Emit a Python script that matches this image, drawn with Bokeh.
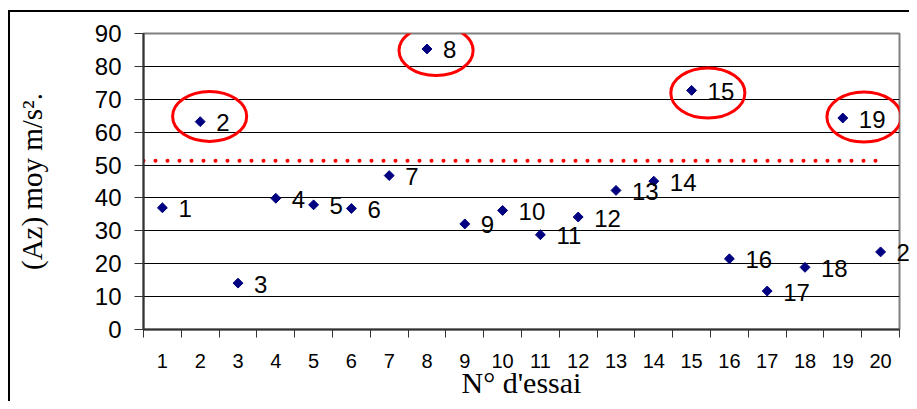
import numpy as np
from bokeh.plotting import figure
from bokeh.models import Range1d, FixedTicker, ColumnDataSource
from bokeh.core.properties import value
from bokeh.embed import file_html
from bokeh.resources import INLINE

# ---- data ----
essais = list(range(1, 21))
az_moy = [37.0, 63.2, 14.1, 39.9, 37.9, 36.8, 46.8, 85.3, 32.1, 36.2,
          28.8, 34.2, 42.3, 45.1, 72.7, 21.5, 11.7, 18.9, 64.3, 23.6]
point_labels = [str(e) for e in essais]
threshold = 51.3
threshold_x = [0.5, 19.9]
highlighted = [2, 8, 15, 19]
highlight_dx = [0.25, 0.24, 0.43, 0.56]
highlight_dy = [1.6, -0.5, -0.8, 0.3]
y_ticks = list(range(0, 100, 10))

W, H = 909, 401
p = figure(width=W, height=H, output_backend="svg", toolbar_location=None,
           x_range=Range1d(0.5, 20.5), y_range=Range1d(0, 90),
           min_border_left=143, min_border_right=10, min_border_top=33,
           min_border_bottom=72)

p.background_fill_color = "white"
p.border_fill_color = None
p.outline_line_color = "#808080"
p.outline_line_width = 2

# outer chart border (left and top edges visible), drawn as CSS background
p.styles = {
    "background-color": "white",
    "background-image": "linear-gradient(#000,#000), linear-gradient(#000,#000)",
    "background-size": "2px 100%, 100% 2px",
    "background-position": "8px 10px, 8px 10px",
    "background-repeat": "no-repeat",
}

# grid
p.xgrid.visible = False
p.ygrid.ticker = FixedTicker(ticks=y_ticks)
p.ygrid.grid_line_color = "#000000"
p.ygrid.grid_line_width = 1

# x axis: labels at category centres, ticks at category boundaries
xa = p.xaxis[0]
xa.ticker = FixedTicker(ticks=essais, minor_ticks=[e - 0.5 for e in essais] + [20.5])
xa.major_tick_out = 0
xa.major_tick_in = 0
xa.minor_tick_out = 8
xa.minor_tick_in = 0
xa.minor_tick_line_color = "#333333"
xa.axis_line_color = "#333333"
xa.axis_line_width = 2
xa.major_label_text_font = "Liberation Sans"
xa.major_label_text_font_size = "20px"
xa.major_label_text_color = "black"
xa.major_label_standoff = 16
xa.axis_label = "N° d'essai"
xa.axis_label_text_font = "Liberation Serif"
xa.axis_label_text_font_style = "normal"
xa.axis_label_text_font_size = "30px"
xa.axis_label_text_color = "black"
xa.axis_label_standoff = -5

ya = p.yaxis[0]
ya.ticker = FixedTicker(ticks=y_ticks)
ya.minor_tick_line_color = None
ya.major_tick_out = 9
ya.major_tick_in = 0
ya.major_tick_line_color = "#333333"
ya.axis_line_color = "#333333"
ya.axis_line_width = 2
ya.major_label_text_font = "Liberation Sans"
ya.major_label_text_font_size = "24px"
ya.major_label_text_color = "black"
ya.major_label_standoff = 13
ya.axis_label = "(Az) moy m/s²."
ya.axis_label_text_font = "Liberation Serif"
ya.axis_label_text_font_style = "normal"
ya.axis_label_text_font_size = "29px"
ya.axis_label_text_color = "black"
ya.axis_label_standoff = 44

# threshold dotted line
p.line(x=threshold_x, y=[threshold, threshold], line_color="red", line_width=4,
       line_dash="0 12", line_cap="round")

# points
src = ColumnDataSource(dict(x=essais, y=az_moy, label=point_labels))
p.scatter(x="x", y="y", source=src, marker="square", angle=np.pi / 4, size=7,
          fill_color="#000080", line_color="#000080")
txt = p.text(x="x", y="y", text="label", source=src, x_offset=16, y_offset=1,
             text_font=value("Liberation Sans"), text_font_size="24px",
             text_color="black", text_align="left", text_baseline="middle")
txt.level = "overlay"

# red ellipses around highlighted tests
ex = [h + dx for h, dx in zip(highlighted, highlight_dx)]
ey = [az_moy[h - 1] + dy for h, dy in zip(highlighted, highlight_dy)]
p.ellipse(x=ex, y=ey, width=1.96, height=15.2, fill_color=None,
          line_color="red", line_width=3)

open("out.html", "w").write(file_html(p, INLINE))
